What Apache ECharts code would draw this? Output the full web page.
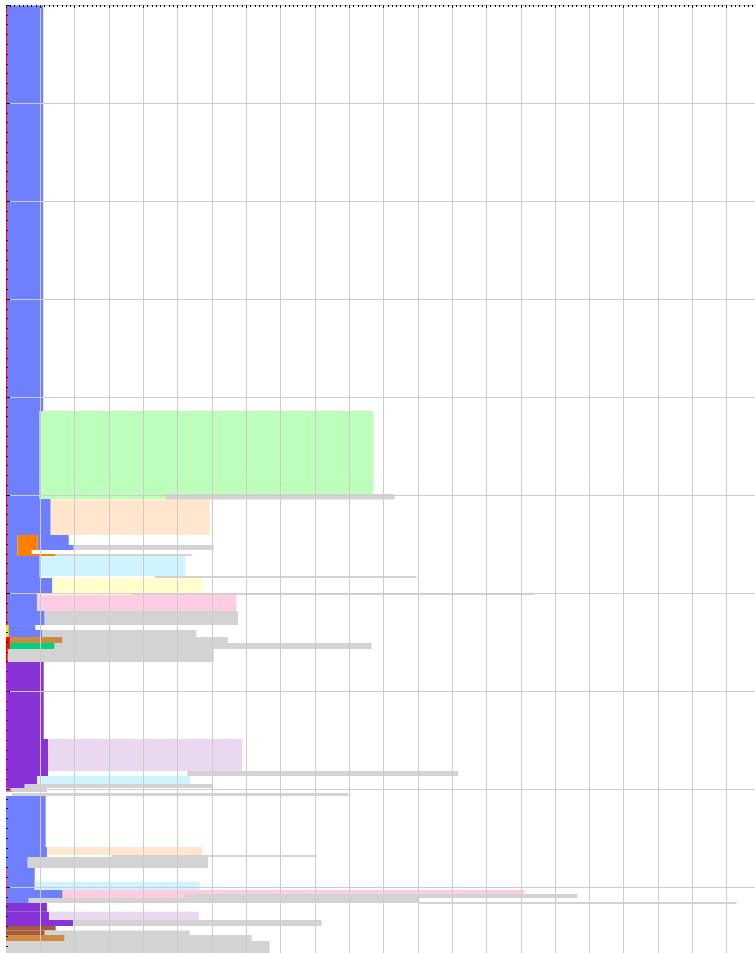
<!DOCTYPE html>
<html>
<head>
<meta charset="utf-8">
<script src="https://cdn.jsdelivr.net/npm/echarts@6/dist/echarts.min.js"></script>
<style>
  html, body { margin: 0; padding: 0; background: #fff; }
  #chart { width: 755px; height: 953px; }
</style>
</head>
<body>
<div id="chart"></div>
<script>
// every block is [xStart, xEnd, yStart, yEnd] in axis units
const blueBlocks = [
  [0, 8.67, 0, 41.43], [0, 7.85, 41.43, 50.41], [0, 10.42, 50.41, 54.08],
  [0, 2.66, 54.08, 56.22], [7.39, 14.61, 54.08, 55.1], [7.39, 15.78, 55.1, 55.61],
  [0, 7.85, 56.22, 58.47], [0, 10.81, 58.47, 60.0], [0, 7.22, 60.0, 61.84],
  [0, 9.02, 61.84, 63.27], [0, 6.85, 63.27, 63.78], [0, 8.4, 63.78, 64.49],
  [0, 9.25, 80.71, 85.92], [0, 9.55, 85.92, 86.94], [0, 5.06, 86.94, 88.06],
  [0, 6.7, 88.06, 90.31], [0, 13.2, 90.31, 91.12], [0, 5.3, 91.12, 91.63]
];
const purpleBlocks = [
  [0, 8.79, 67.04, 74.9], [0, 9.79, 74.9, 78.67], [0, 7.22, 78.67, 79.49],
  [0, 4.36, 79.49, 79.9], [0, 9.55, 91.63, 92.52], [0, 10.02, 92.52, 93.37],
  [0, 15.61, 93.37, 93.98]
];
const greenBlocks = [[7.85, 85.69, 41.43, 49.9], [7.85, 37.22, 49.9, 50.41]];
const peachBlocks = [[10.42, 47.47, 50.45, 54.08], [9.55, 45.68, 85.92, 86.73]];
const orangeBlocks = [[2.66, 7.39, 54.08, 55.61], [2.66, 6.0, 55.61, 56.02], [2.66, 11.58, 56.02, 56.22]];
const cyanBlocks = [[7.85, 41.81, 56.22, 58.27], [7.22, 42.88, 78.67, 79.49], [6.7, 45.14, 89.46, 90.31]];
const yellowBlocks = [[10.81, 45.84, 58.47, 60.0], [7.22, 29.29, 60.0, 60.2]];
const pinkBlocks = [[7.22, 53.69, 60.2, 61.84], [13.2, 120.9, 90.31, 90.71], [13.2, 41.5, 90.71, 91.12]];
const lavenderBlocks = [[9.79, 55.09, 74.9, 78.16], [10.02, 44.91, 92.52, 93.37]];
const peruBlocks = [[0.9, 13.2, 64.49, 65.1], [0, 13.68, 94.9, 95.51]];
const springBlocks = [[0.9, 11.35, 65.1, 65.71]];
const brownBlocks = [[0, 11.58, 93.98, 94.45], [0, 9.02, 94.45, 94.9]];
const greyBlocks = [
  [37.22, 90.58, 49.9, 50.45], [15.78, 48.4, 55.1, 55.61], [11.58, 43.28, 56.02, 56.22],
  [34.65, 95.71, 58.27, 58.47], [29.29, 122.98, 60.0, 60.2], [9.02, 54.07, 61.84, 63.27],
  [8.4, 44.37, 63.78, 64.49], [13.2, 51.67, 64.49, 65.1], [11.35, 85.22, 65.1, 65.71],
  [0.4, 48.4, 65.71, 67.04], [42.27, 105.4, 78.16, 78.67], [4.36, 48.1, 79.49, 79.9],
  [1.33, 9.5, 79.9, 80.31], [1.33, 79.86, 80.4, 80.71], [24.63, 72.41, 86.73, 86.94],
  [5.06, 47.08, 86.94, 88.06], [41.5, 133.2, 90.71, 91.12], [5.3, 96.4, 91.12, 91.63],
  [96.4, 170.3, 91.53, 91.73], [15.61, 73.57, 93.37, 93.98], [9.02, 42.81, 94.45, 94.9],
  [13.68, 57.26, 94.9, 95.51], [0, 61.45, 95.51, 98]
];
// thin marks along the left edge
const redEdge = [[0, 0.25, 0, 63.27], [0, 0.9, 64.49, 65.71], [0, 0.4, 65.71, 67.04]];
const yellowEdge = [[0, 0.63, 63.27, 64.49]];
const magentaEdge = [[0, 0.25, 67.04, 79.9]];
const orchidEdge = [[0, 1.33, 79.9, 80.31]];
const roseEdge = [[0, 0.25, 87.96, 91.63]];

const layers = [
  ['blue', blueBlocks, '#6f80ff', 2],
  ['purple', purpleBlocks, '#8833d6', 2],
  ['green', greenBlocks, '#bbffbb', 2],
  ['peach', peachBlocks, '#ffe6cc', 2],
  ['orange', orangeBlocks, '#ff8000', 2],
  ['cyan', cyanBlocks, '#cff3ff', 2],
  ['yellow', yellowBlocks, '#ffffcc', 2],
  ['pink', pinkBlocks, '#ffcde3', 2],
  ['lavender', lavenderBlocks, '#ead8f0', 2],
  ['peru', peruBlocks, '#d08a42', 2],
  ['spring', springBlocks, '#00d27f', 2],
  ['brown', brownBlocks, '#a65a3c', 2],
  ['grey', greyBlocks, '#d3d3d3', 2],
  ['redEdge', redEdge, '#ff0000', 3],
  ['yellowEdge', yellowEdge, '#ffe600', 3],
  ['magentaEdge', magentaEdge, '#ff00ff', 3],
  ['orchidEdge', orchidEdge, '#cc77cc', 3],
  ['roseEdge', roseEdge, '#e05070', 3]
];

function renderBlock(params, api) {
  const a = api.coord([api.value(0), api.value(2)]);
  const b = api.coord([api.value(1), api.value(3)]);
  return {
    type: 'rect',
    shape: { x: a[0], y: a[1], width: b[0] - a[0], height: b[1] - a[1] },
    style: { fill: api.visual('color') }
  };
}

const chart = echarts.init(document.getElementById('chart'));
chart.setOption({
  animation: false,
  grid: { left: 6, top: 5, right: -6, bottom: -32, containLabel: false, outerBoundsMode: 'none' },
  xAxis: {
    type: 'value', position: 'top', min: 0, max: 176, interval: 8, z: 10,
    axisLine: { show: true, lineStyle: { color: '#bbb' } },
    axisTick: { show: true, inside: true, length: 3, lineStyle: { color: '#222' } },
    minorTick: { show: true, splitNumber: 8, length: 2, lineStyle: { color: '#000' } },
    axisLabel: { show: false },
    splitLine: { show: true, showMinLine: false, lineStyle: { color: '#cccccc' } }
  },
  yAxis: {
    type: 'value', inverse: true, min: 0, max: 100, interval: 10, z: 10,
    axisLine: { show: false },
    axisTick: { show: true, inside: true, length: 4, lineStyle: { color: '#111' } },
    minorTick: { show: true, splitNumber: 10, length: 2, lineStyle: { color: '#111' } },
    axisLabel: { show: false },
    splitLine: { show: true, lineStyle: { color: '#cccccc' } }
  },
  series: layers.map(([name, blocks, color, z]) => ({
    name: name,
    type: 'custom',
    renderItem: renderBlock,
    encode: { x: [0, 1], y: [2, 3] },
    itemStyle: { color: color },
    silent: true,
    z: z,
    data: blocks
  }))
});
</script>
</body>
</html>
